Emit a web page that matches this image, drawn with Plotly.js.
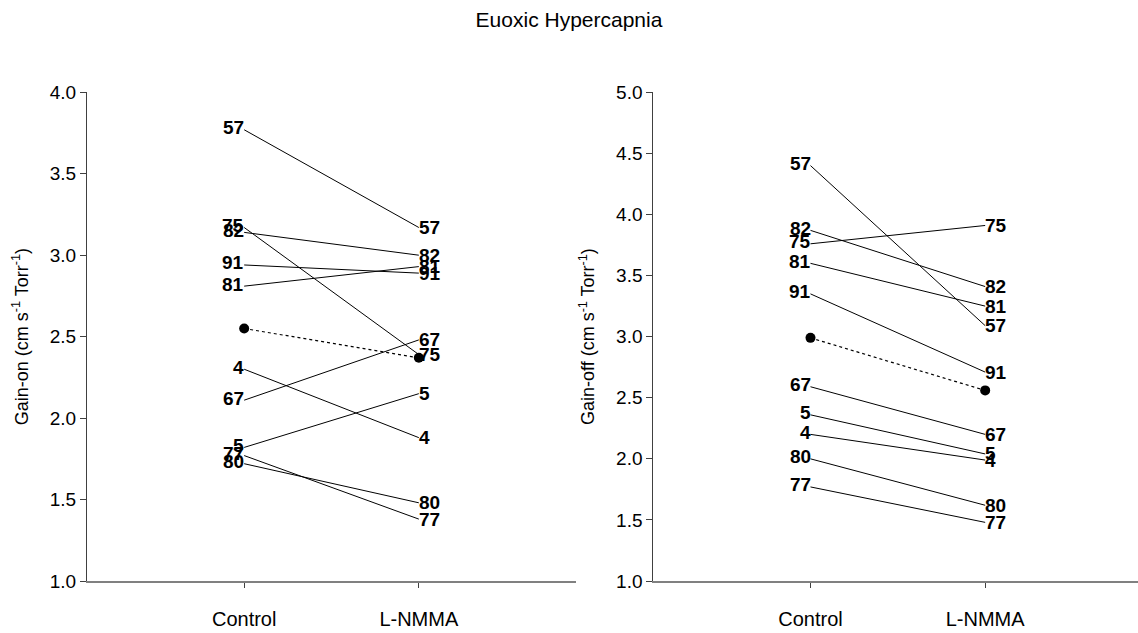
<!DOCTYPE html>
<html>
<head>
<meta charset="utf-8">
<script src="https://cdn.plot.ly/plotly-3.0.1.min.js"></script>
<style>html,body{margin:0;padding:0;background:#fff;}#chart{width:1138px;height:633px;}</style>
</head>
<body>
<div id="chart"></div>
<script>
// ---- data ----
const categories = ['Control', 'L-NMMA'];
const categoryPos = [1, 2];

const subjectsOn = ['57', '75', '82', '91', '81', '4', '67', '5', '77', '80'];
const gainOnControl = [3.77, 3.17, 3.14, 2.94, 2.81, 2.30, 2.11, 1.82, 1.77, 1.72];
const gainOnLNMMA   = [3.17, 2.39, 3.00, 2.89, 2.93, 1.88, 2.48, 2.15, 1.38, 1.48];
const gainOnMean    = [2.55, 2.37];

const subjectsOff = ['57', '82', '75', '81', '91', '67', '5', '4', '80', '77'];
const gainOffControl = [4.40, 3.87, 3.76, 3.60, 3.35, 2.59, 2.36, 2.20, 2.00, 1.77];
const gainOffLNMMA   = [3.09, 3.41, 3.91, 3.25, 2.71, 2.20, 2.04, 1.99, 1.62, 1.48];
const gainOffMean    = [2.99, 2.56];

const titleText = 'Euoxic Hypercapnia';
const yTitleOn = 'Gain-on (cm s<sup>-1</sup> Torr<sup>-1</sup>)';
const yTitleOff = 'Gain-off (cm s<sup>-1</sup> Torr<sup>-1</sup>)';

// ---- build ----
const FONT = 'Liberation Sans, Arial, Helvetica, sans-serif';
const traces = [];
const annotations = [];

function addPanel(ids, ctrl, lnmma, mean, xa, ya) {
  ids.forEach((id, i) => {
    traces.push({
      x: categoryPos, y: [ctrl[i], lnmma[i]],
      xaxis: xa, yaxis: ya, type: 'scatter', mode: 'lines',
      line: {color: '#000', width: 1}, hoverinfo: 'skip', showlegend: false
    });
    annotations.push({
      x: categoryPos[0], y: ctrl[i], xref: xa, yref: ya, text: '<b>' + id + '</b>',
      showarrow: false, xanchor: 'right', yanchor: 'middle', xshift: 1, yshift: 2, borderpad: 0,
      font: {family: FONT, size: 19, color: '#000'}
    });
    annotations.push({
      x: categoryPos[1], y: lnmma[i], xref: xa, yref: ya, text: '<b>' + id + '</b>',
      showarrow: false, xanchor: 'left', yanchor: 'middle', xshift: -1, borderpad: 0,
      font: {family: FONT, size: 19, color: '#000'}
    });
  });
  traces.push({
    x: categoryPos, y: mean, xaxis: xa, yaxis: ya, type: 'scatter', mode: 'lines+markers',
    line: {color: '#000', width: 1.2, dash: 'dot'},
    marker: {color: '#000', size: 10}, hoverinfo: 'skip', showlegend: false
  });
}

addPanel(subjectsOn, gainOnControl, gainOnLNMMA, gainOnMean, 'x', 'y');
addPanel(subjectsOff, gainOffControl, gainOffLNMMA, gainOffMean, 'x2', 'y2');

const W = 1138, H = 633;
const yDom = [(H - 581) / H, (H - 92.3) / H];

function xAxis(domain, range) {
  return {
    domain: domain, range: range, tickvals: categoryPos, ticktext: categories,
    showgrid: false, zeroline: false, showline: true, linecolor: '#808080', linewidth: 2,
    ticks: 'outside', ticklen: 5, tickcolor: '#404040', tickwidth: 1,
    ticklabelstandoff: 14,
    tickfont: {family: FONT, size: 20, color: '#000'}, fixedrange: true
  };
}
function yAxis(domain, range, title, anchor) {
  return {
    domain: domain, range: range, dtick: 0.5, tick0: 0, tickformat: '.1f', anchor: anchor,
    showgrid: false, zeroline: false, showline: true, linecolor: '#404040', linewidth: 1,
    ticks: 'outside', ticklen: 6, tickcolor: '#404040', tickwidth: 1,
    tickfont: {family: FONT, size: 19, color: '#000'},
    title: {text: title, font: {family: FONT, size: 18, color: '#000'}, standoff: 16},
    fixedrange: true
  };
}

const layout = {
  width: W, height: H,
  margin: {l: 0, r: 0, t: 0, b: 0, autoexpand: false},
  paper_bgcolor: '#fff', plot_bgcolor: '#fff',
  title: {text: titleText, font: {family: FONT, size: 21, color: '#000'},
          x: 0.5, xanchor: 'center', y: 1 - 20 / H, yanchor: 'middle', yref: 'container'},
  xaxis: Object.assign(xAxis([87 / W, 576 / W], [0.1, 2.9]), {anchor: 'y'}),
  yaxis: yAxis(yDom, [1, 4], yTitleOn, 'x'),
  xaxis2: Object.assign(xAxis([653.3 / W, 1], [0.1, 2.875]), {anchor: 'y2'}),
  yaxis2: yAxis(yDom, [1, 5], yTitleOff, 'x2'),
  annotations: annotations,
  showlegend: false
};

Plotly.newPlot('chart', traces, layout, {displayModeBar: false, staticPlot: true});
</script>
</body>
</html>
